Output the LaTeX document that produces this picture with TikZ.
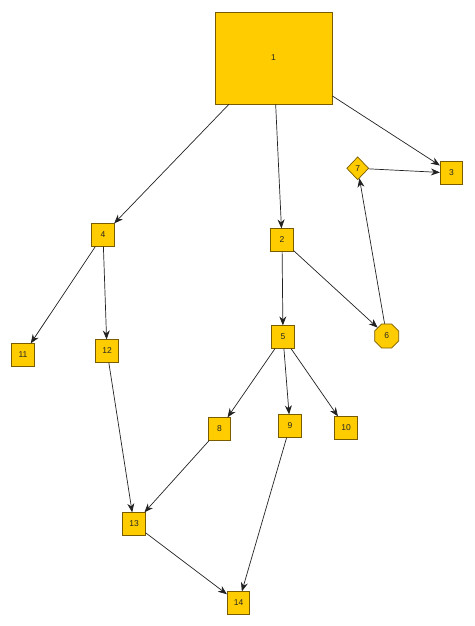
\documentclass[tikz,border=0pt]{standalone}
\usepackage{fontspec}
\setmainfont{Liberation Sans}
\usetikzlibrary{shapes.geometric,arrows.meta}
\definecolor{nodefill}{HTML}{FFCC00}
\definecolor{nodeline}{HTML}{7A5C00}
\definecolor{edgecol}{HTML}{222222}
\begin{document}
\begin{tikzpicture}[x=1pt,y=-1pt,
  every node/.style={font=\fontsize{8.5}{9}\selectfont, text=black!85},
  sq/.style={draw=nodeline, fill=nodefill, line width=0.7pt, inner sep=0pt, minimum width=22.5pt, minimum height=22.5pt},
  dia/.style={diamond, draw=nodeline, fill=nodefill, line width=0.7pt, inner sep=0pt, minimum width=22pt, minimum height=23pt},
  oct/.style={regular polygon, regular polygon sides=8, draw=nodeline, fill=nodefill, line width=0.7pt, inner sep=0pt, minimum size=26pt},
  edge/.style={draw=edgecol, line width=0.7pt, -{Stealth[length=9pt,width=7pt]}}]
\useasboundingbox (0,0) rectangle (474,626);
\node[sq, minimum width=117pt, minimum height=92pt] (n1) at (273.5,58) {1};
\node[sq] (n2) at (282,240) {2};
\node[sq] (n3) at (451.5,173) {3};
\node[sq] (n4) at (103,235) {4};
\node[sq] (n5) at (283,337) {5};
\node[oct] (n6) at (386.7,336) {6};
\node[dia] (n7) at (357.7,168.3) {7};
\node[sq] (n8) at (219.5,429) {8};
\node[sq] (n9) at (290,426) {9};
\node[sq] (n10) at (346,428) {10};
\node[sq] (n11) at (23,355) {11};
\node[sq] (n12) at (107,351) {12};
\node[sq] (n13) at (134,524) {13};
\node[sq] (n14) at (238.5,603) {14};
\draw[edge] (n1) -- (n4);
\draw[edge] (n1) -- (n2);
\draw[edge] (n1) -- (n3);
\draw[edge] (n7) -- (n3);
\draw[edge] (n6) -- (n7);
\draw[edge] (n2) -- (n6);
\draw[edge] (n2) -- (n5);
\draw[edge] (n4) -- (n11);
\draw[edge] (n4) -- (n12);
\draw[edge] (n12) -- (n13);
\draw[edge] (n5) -- (n8);
\draw[edge] (n5) -- (n9);
\draw[edge] (n5) -- (n10);
\draw[edge] (n8) -- (n13);
\draw[edge] (n9) -- (n14);
\draw[edge] (n13) -- (n14);
\end{tikzpicture}
\end{document}
